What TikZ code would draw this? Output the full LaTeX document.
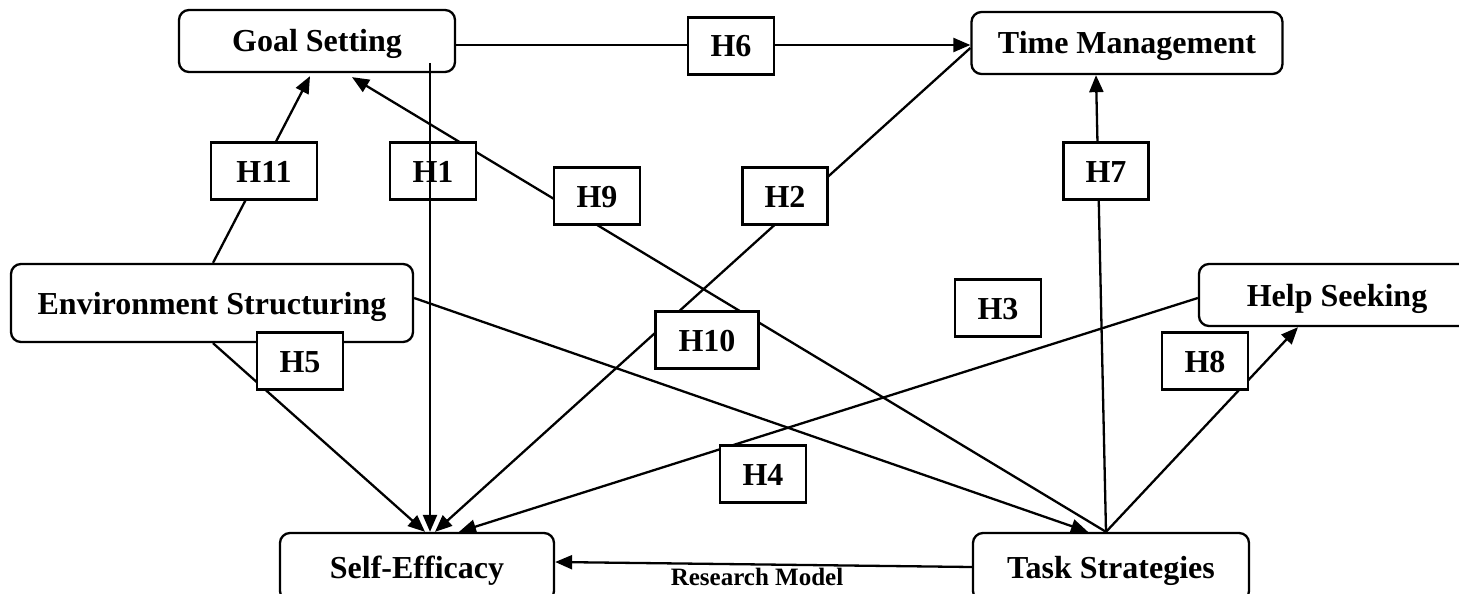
\documentclass[tikz,border=0pt]{standalone}
\usepackage{fontspec}
\setmainfont{Liberation Serif}
\usetikzlibrary{arrows.meta}
\tikzset{
	factor/.style = {draw, rounded corners=10pt, fill=white, inner sep=0pt, text height=22pt, text depth=0pt, font=\fontsize{32}{38}\selectfont\bfseries},
	hyp/.style = {draw, fill=white, minimum width=86pt, minimum height=57pt, inner sep=0pt, text height=22pt, text depth=0pt, font=\fontsize{32}{38}\selectfont\bfseries},
	link/.style = {-{Triangle[length=17pt,width=14pt]}}
}

\begin{document}
\begin{tikzpicture}[x=1pt, y=-1pt, line width=2.3pt]
	\clip (0,0) rectangle (1459,594);
	\useasboundingbox (0,0) rectangle (1459,594);
	% factors
	\node[factor, minimum width=276pt, minimum height=62pt] (gs) at (317,41) {Goal Setting};
	\node[factor, minimum width=311pt, minimum height=62pt] (tm) at (1127,43) {Time Management};
	\node[factor, minimum width=402pt, minimum height=78pt] (es) at (212,303) {Environment Structuring};
	\node[factor, minimum width=276pt, minimum height=62pt] (hs) at (1337,295) {Help Seeking};
	\node[factor, minimum width=274pt, minimum height=68pt] (se) at (417,567) {Self-Efficacy};
	\node[factor, minimum width=276pt, minimum height=68pt] (ts) at (1111,567) {Task Strategies};
	\node[font=\fontsize{25}{30}\selectfont\bfseries] (cap) at (757,577) {Research Model};
	% paths
	\draw[link] ([yshift=-4pt]gs.east) -- ([yshift=-2pt]tm.west);
	\draw[link] ([xshift=1pt]es.north) -- ([xshift=-7pt,yshift=-3pt]gs.south);
	\draw[link] ([xshift=-5pt]ts.north) -- ([xshift=35pt,yshift=-4pt]gs.south);
	\draw[link] ([xshift=-5pt]ts.north) -- ([xshift=-31pt]tm.south);
	\draw[link] ([xshift=-5pt]ts.north) -- ([xshift=-39pt]hs.south);
	\draw[link] (ts.west) -- ([yshift=5pt]se.east);
	\draw[link] ([yshift=5pt]es.east) -- ([xshift=-23pt]ts.north);
	\draw[link] ([yshift=-3pt]hs.west) -- ([xshift=42pt]se.north);
	\draw[link] ([yshift=-5pt]tm.west) -- ([xshift=18pt]se.north);
	\draw[link] ([xshift=1pt]es.south) -- ([xshift=8pt]se.north);
	% hypotheses
	\node[hyp] (h6) at (731,46) {H6};
	\node[hyp] (h1) at (433,171) {H1};
	\node[hyp, minimum width=106pt] (h11) at (264,171) {H11};
	\node[hyp] (h9) at (597,196) {H9};
	\node[hyp, minimum width=85pt] (h2) at (785,196) {H2};
	\node[hyp, minimum width=85pt] (h7) at (1106,171) {H7};
	\node[hyp, minimum width=103pt] (h10) at (707,340) {H10};
	\node[hyp] (h5) at (300,361) {H5};
	\node[hyp] (h3) at (998,308) {H3};
	\node[hyp] (h8) at (1205,361) {H8};
	\node[hyp] (h4) at (763,474) {H4};
	\draw[link] ([xshift=113pt,yshift=-22pt]gs.center) -- ([xshift=13pt]se.north);
\end{tikzpicture}
\end{document}
